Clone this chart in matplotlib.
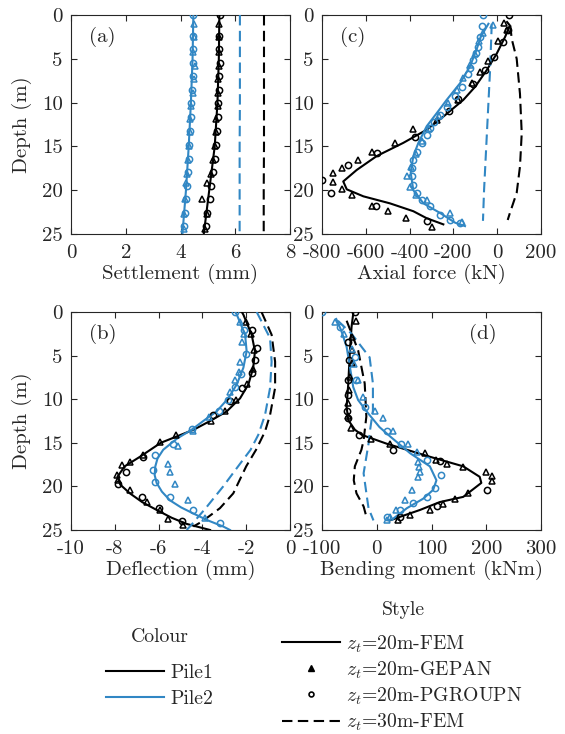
import matplotlib
matplotlib.use("Agg")
import matplotlib.pyplot as plt
from matplotlib.lines import Line2D

plt.rcParams['font.family'] = 'serif'
plt.rcParams['font.serif'] = ['cmr10', 'DejaVu Serif']
plt.rcParams['mathtext.fontset'] = 'cm'
plt.rcParams['axes.unicode_minus'] = False

BLACK = 'black'
BLUE = '#3187c4'

# ---------------- (a) Settlement ----------------
a_fem_d = [0, 5, 10, 15, 20, 25]
a_p1_fem = [5.42, 5.40, 5.35, 5.25, 5.05, 4.85]
a_p2_fem = [4.47, 4.44, 4.38, 4.30, 4.20, 4.07]
a_p1_30 = [7.05, 7.05, 7.05, 7.05, 7.04, 7.04]
a_p2_30 = [6.17, 6.17, 6.17, 6.16, 6.16, 6.16]
a_pg_d = [0, 2.4, 3.9, 5.5, 7.0, 8.6, 10.1, 11.7, 13.2, 14.8, 16.4, 17.9, 19.5, 21.0, 22.6, 24.1]
a_p1_pg = [5.45, 5.42, 5.42, 5.43, 5.41, 5.41, 5.38, 5.36, 5.33, 5.30, 5.27, 5.20, 5.12, 5.06, 4.98, 4.93]
a_p2_pg = [4.45, 4.47, 4.46, 4.45, 4.44, 4.42, 4.40, 4.38, 4.35, 4.32, 4.30, 4.27, 4.24, 4.21, 4.18, 4.14]
a_ge_d = [1.0, 2.5, 4.2, 5.8, 7.3, 8.9, 10.4, 11.9, 13.4, 15.0, 16.5, 18.1, 19.2, 21.0, 22.7, 24.4]
a_p1_ge = [5.40, 5.42, 5.39, 5.41, 5.38, 5.38, 5.36, 5.30, 5.30, 5.25, 5.18, 5.12, 4.98, 4.78, 4.95, 4.88]
a_p2_ge = [4.50, 4.50, 4.46, 4.52, 4.48, 4.45, 4.40, 4.36, 4.33, 4.30, 4.27, 4.24, 4.21, 4.18, 4.14, 4.12]

# ---------------- (c) Axial force ----------------
c_p1_fem_d = [0.8, 1.2, 2.5, 4.4, 6.3, 8.2, 9.7, 11.6, 13.1, 14.6, 16.1, 17.7, 19.0, 19.9, 20.7, 21.5, 22.4, 23.2, 23.9]
c_p1_fem = [45, 58, 36, -2, -48, -101, -155, -246, -322, -429, -550, -642, -703, -687, -611, -490, -383, -322, -246]
c_p2_fem_d = [1.0, 2.5, 4.0, 5.9, 7.8, 9.7, 11.2, 12.7, 14.6, 16.1, 18.0, 20.0, 21.5, 22.6, 23.7, 24.1]
c_p2_fem = [-40, -75, -95, -125, -170, -231, -276, -322, -360, -383, -395, -383, -337, -261, -193, -147]
c_p1_pg_d = [0, 1.7, 3.1, 4.75, 6.3, 7.9, 9.6, 11.0, 13.9, 15.7, 17.1, 18.8, 20.3, 21.8, 23.5]
c_p1_pg = [54, 50, 25, -13, -56, -110, -177, -222, -375, -547, -680, -800, -760, -553, -322]
c_p1_ge_d = [0.9, 1.7, 3.0, 5.3, 6.5, 7.8, 9.7, 12.0, 13.0, 14.6, 15.6, 16.5, 17.5, 18.0, 19.1, 19.9, 20.6, 21.8, 22.4, 23.2, 24.2]
c_p1_ge = [31, 46, 5, -40, -78, -115, -177, -276, -383, -467, -573, -634, -710, -748, -748, -710, -665, -573, -497, -416, -299]
c_p2_pg_d = [0, 1.3, 2.5, 3.6, 4.3, 5.1, 6.1, 6.7, 8.2, 9.3, 10.5, 11.4, 12.2, 12.9, 13.7, 14.6, 15.6, 16.5, 17.5, 18.4, 19.4, 20.3, 21.1, 21.8, 22.8, 23.4, 23.7]
c_p2_pg = [-63, -71, -79, -86, -97, -109, -124, -132, -162, -193, -231, -262, -287, -305, -322, -345, -368, -383, -391, -391, -383, -368, -345, -307, -261, -216, -170]
c_p2_ge_d = [1.1, 2.1, 3.0, 4.4, 5.7, 7.2, 8.6, 10.1, 11.5, 13.0, 14.4, 15.9, 17.3, 18.4, 19.6, 20.6, 21.1, 22.6, 23.6]
c_p2_ge = [-18, -63, -82, -101, -124, -155, -185, -225, -265, -310, -345, -372, -395, -413, -400, -372, -322, -216, -162]
c_p2_30_d = [1.0, 2.5, 6.5, 10.5, 15, 20, 23.5]
c_p2_30 = [-25, -27, -33, -41, -50, -60, -65]
c_p1_30_d = [1.2, 2.7, 5.0, 9.0, 13.5, 17.3, 20.3, 22.6, 23.4]
c_p1_30 = [60, 66, 89, 104, 112, 104, 89, 58, 48]

# ---------------- (b) Deflection ----------------
b_p1_fem_d = [0, 0.3, 2.6, 4.5, 6.4, 8.3, 9.9, 11.4, 12.5, 13.5, 14.1, 15.0, 16.6, 17.7, 18.9, 19.8, 20.8, 21.8, 22.7, 23.6, 24.3, 25.0]
b_p1_fem = [-2.2, -2.13, -1.75, -1.6, -1.68, -1.9, -2.28, -2.89, -3.65, -4.4, -5.0, -5.9, -6.85, -7.55, -7.88, -7.75, -7.31, -6.75, -6.09, -5.4, -4.72, -3.65]
b_p2_fem_d = [0, 0.3, 2.6, 4.5, 6.4, 8.3, 9.9, 11.4, 12.5, 13.5, 14.5, 15.8, 16.8, 17.7, 18.7, 19.6, 20.6, 21.6, 22.4, 23.1, 23.9, 24.6, 25.0]
b_p2_fem = [-2.5, -2.43, -2.05, -1.98, -2.13, -2.43, -2.82, -3.35, -3.96, -4.49, -5.15, -5.79, -6.05, -6.15, -6.18, -6.09, -5.85, -5.48, -4.98, -4.42, -3.75, -3.05, -2.74]
b_p2_pg_d = [0, 2.1, 4.8, 7.1, 8.6, 10.1, 11.3, 13.4, 15.1, 16.4, 18.1, 19.5, 21.2, 22.7, 24.2]
b_p2_pg = [-2.5, -2.1, -2.0, -2.25, -2.5, -2.85, -3.25, -4.49, -5.33, -6.16, -6.27, -6.16, -5.48, -4.42, -3.2]
b_p2_ge_d = [1.1, 2.5, 3.4, 5.7, 6.9, 7.8, 9.2, 12.0, 13.7, 15.4, 17.4, 18.3, 19.7, 21.6, 23.6]
b_p2_ge = [-2.28, -2.1, -2.2, -2.28, -2.35, -2.5, -2.75, -3.7, -4.41, -5.1, -5.56, -5.48, -5.25, -4.64, -3.88]
b_p1_ge_d = [1.2, 2.5, 4.4, 6.5, 8.2, 10.1, 11.3, 12.5, 14.1, 14.9, 16.4, 17.2, 17.5, 18.7, 19.3, 20.4, 21.8, 22.7, 23.7, 24.4]
b_p1_ge = [-2.0, -1.8, -1.65, -1.7, -1.95, -2.45, -2.95, -3.6, -5.2, -5.94, -6.7, -7.31, -7.69, -7.91, -7.84, -7.31, -6.55, -5.94, -5.56, -4.87]
b_p1_pg_d = [2.1, 4.1, 5.5, 7.0, 8.7, 10.2, 11.8, 16.6, 18.3, 19.7, 21.2, 22.5, 24.0]
b_p1_pg = [-1.75, -1.52, -1.6, -1.75, -2.2, -2.74, -3.5, -6.7, -7.5, -7.84, -6.77, -6.0, -4.95]
b_p2_30_d = [0, 3.0, 5.7, 8.7, 11.8, 14.1, 15.8, 17.4, 20.0, 22.5, 24.6, 25.0]
b_p2_30 = [-1.52, -0.91, -0.84, -0.91, -1.14, -1.45, -1.8, -2.28, -3.05, -3.85, -4.57, -4.72]
b_p1_30_d = [0, 2.6, 5.7, 8.7, 11.8, 13.7, 15.8, 17.7, 20.8, 22.5, 24.0, 24.6]
b_p1_30 = [-1.3, -0.84, -0.68, -0.68, -0.91, -1.14, -1.55, -2.0, -2.59, -3.2, -4.0, -4.41]

# ---------------- (d) Bending moment ----------------
d_p1_fem_d = [0.2, 1.7, 4.4, 8.2, 10.9, 12.4, 13.5, 14.1, 15.1, 16.6, 17.7, 18.9, 19.6, 21.2, 21.8, 22.7, 23.5, 23.9]
d_p1_fem = [-43, -46, -49, -52, -55, -52, -40, -27, 18, 97, 158, 188, 191, 158, 115, 79, 42, 24]
d_p1_ge_d = [1.0, 2.9, 4.4, 5.9, 7.4, 8.9, 10.4, 11.9, 13.3, 14.6, 15.1, 16.2, 17.0, 17.4, 17.8, 18.3, 18.8, 19.4, 20.8, 21.4, 22.0, 22.7, 23.3, 23.9]
d_p1_ge = [-38, -46, -45, -46, -48, -50, -52, -53, -47, -10, 24, 88, 109, 128, 158, 200, 210, 211, 167, 143, 121, 97, 61, 39]
d_p1_pg_d = [0, 3.4, 5.5, 7.8, 9.5, 11.3, 12.2, 14.1, 15.8, 17.1, 20.4, 22.2, 23.5]
d_p1_pg = [-40, -52, -50, -52, -53, -55, -52, -33, 30, 115, 201, 110, 42]
d_p2_fem_d = [0.8, 2.1, 4.0, 6.3, 8.6, 10.1, 11.6, 13.2, 14.3, 16.2, 17.7, 19.3, 20.4, 21.4, 22.5, 23.7]
d_p2_fem = [-74, -65, -55, -49, -43, -34, -16, 5, 25, 61, 97, 109, 103, 85, 55, 30]
d_p2_pg_d = [0, 1.7, 5.2, 7.8, 10.9, 13.7, 15.1, 17.0, 18.7, 20.2, 21.2, 21.9, 22.7, 23.5]
d_p2_pg = [-100, -68, -40, -37, -22, 18, 45, 91, 118, 106, 91, 67, 42, 18]
d_p2_ge_d = [1.1, 2.5, 4.2, 6.0, 7.8, 9.7, 11.3, 12.2, 13.7, 15.1, 16.0, 17.2, 17.8, 18.4, 18.9, 20.4, 21.6, 22.7, 23.5, 23.9]
d_p2_ge = [-77, -59, -46, -42, -35, -25, -4, 12, 30, 57, 73, 76, 78, 79, 76, 64, 52, 36, 24, 18]
d_p2_30_d = [1.0, 2.5, 5.2, 8.2, 11.3, 13.9, 15.1, 18.5, 21.2, 22.5, 23.9]
d_p2_30 = [-71, -46, -13, -7, -7, -13, -15, -24, -18, -15, -6]
d_p1_30_d = [1.0, 4.4, 8.2, 12.0, 14.7, 15.8, 17.7, 19.3, 20.8, 22.3, 23.7]
d_p1_30 = [-55, -34, -22, -19, -24, -28, -40, -42, -37, -24, -18]

depth_ticks = [0, 5, 10, 15, 20, 25]
a_xticks = [0, 2, 4, 6, 8]
c_xticks = [-800, -600, -400, -200, 0, 200]
b_xticks = [-10, -8, -6, -4, -2, 0]
d_xticks = [-100, 0, 100, 200, 300]

W, H = 565, 734
fig = plt.figure(figsize=(W / 100, H / 100), dpi=100)

def ax_at(l, t, w, h):
    return fig.add_axes([l / W, 1 - (t + h) / H, w / W, h / H])

ax_a = ax_at(71, 15, 219, 219)
ax_c = ax_at(322, 15, 219, 219)
ax_b = ax_at(71, 312, 219, 218)
ax_d = ax_at(322, 312, 219, 218)

LW = 1.5
MS = 5
MEW = 1.1
DASH = (5, 2.6)

def draw(ax, fem, ge, pg, d30, color):
    ax.plot(fem[0], fem[1], color=color, lw=LW, zorder=3)
    ax.plot(ge[0], ge[1], ls='none', marker='^', ms=MS, mew=MEW, mfc='none', mec=color, zorder=4)
    ax.plot(pg[0], pg[1], ls='none', marker='o', ms=MS - 0.5, mew=MEW, mfc='none', mec=color, zorder=4)
    ax.plot(d30[0], d30[1], color=color, lw=LW, ls=(0, DASH), zorder=3)

draw(ax_a, (a_p1_fem, a_fem_d), (a_p1_ge, a_ge_d), (a_p1_pg, a_pg_d), (a_p1_30, a_fem_d), BLACK)
draw(ax_a, (a_p2_fem, a_fem_d), (a_p2_ge, a_ge_d), (a_p2_pg, a_pg_d), (a_p2_30, a_fem_d), BLUE)
draw(ax_c, (c_p1_fem, c_p1_fem_d), (c_p1_ge, c_p1_ge_d), (c_p1_pg, c_p1_pg_d), (c_p1_30, c_p1_30_d), BLACK)
draw(ax_c, (c_p2_fem, c_p2_fem_d), (c_p2_ge, c_p2_ge_d), (c_p2_pg, c_p2_pg_d), (c_p2_30, c_p2_30_d), BLUE)
draw(ax_b, (b_p1_fem, b_p1_fem_d), (b_p1_ge, b_p1_ge_d), (b_p1_pg, b_p1_pg_d), (b_p1_30, b_p1_30_d), BLACK)
draw(ax_b, (b_p2_fem, b_p2_fem_d), (b_p2_ge, b_p2_ge_d), (b_p2_pg, b_p2_pg_d), (b_p2_30, b_p2_30_d), BLUE)
draw(ax_d, (d_p1_fem, d_p1_fem_d), (d_p1_ge, d_p1_ge_d), (d_p1_pg, d_p1_pg_d), (d_p1_30, d_p1_30_d), BLACK)
draw(ax_d, (d_p2_fem, d_p2_fem_d), (d_p2_ge, d_p2_ge_d), (d_p2_pg, d_p2_pg_d), (d_p2_30, d_p2_30_d), BLUE)

FS = 15
TC = '#262626'
specs = [
    (ax_a, a_xticks, 'Settlement (mm)', '(a)', (0.08, 0.90), True),
    (ax_c, c_xticks, 'Axial force (kN)', '(c)', (0.08, 0.90), False),
    (ax_b, b_xticks, 'Deflection (mm)', '(b)', (0.08, 0.90), True),
    (ax_d, d_xticks, 'Bending moment (kNm)', '(d)', (0.67, 0.90), False),
]
for ax, xt, xl, lab, pos, left in specs:
    ax.set_xlim(xt[0], xt[-1])
    ax.set_ylim(25, 0)
    ax.set_xticks(xt)
    ax.set_xticklabels([str(v) for v in xt])
    ax.set_yticks(depth_ticks)
    ax.set_yticklabels([str(v) for v in depth_ticks])
    ax.tick_params(direction='in', top=True, right=True, length=4, width=0.8,
                   labelsize=FS, colors=TC, labelcolor=TC, pad=6)
    ax.tick_params(axis='x', pad=7.5)
    for s in ax.spines.values():
        s.set_color(TC)
        s.set_linewidth(0.8)
    ax.set_xlabel(xl, fontsize=FS, color=TC, labelpad=1)
    if left:
        ax.set_ylabel('Depth (m)', fontsize=FS, color=TC, labelpad=7)
    ax.text(pos[0], pos[1], lab, transform=ax.transAxes, fontsize=FS,
            ha='left', va='center', color=TC)

LFS = 14.2
fig.text(160 / W, 1 - 637 / H, 'Colour', ha='center', va='center', fontsize=LFS, color=TC)
fig.text(403 / W, 1 - 610 / H, 'Style', ha='center', va='center', fontsize=LFS, color=TC)

col_handles = [Line2D([], [], color=BLACK, lw=LW), Line2D([], [], color=BLUE, lw=LW)]
leg1 = fig.legend(col_handles, ['Pile1', 'Pile2'], loc='center',
                  bbox_to_anchor=(159.5 / W, 1 - 686 / H), frameon=False, fontsize=LFS,
                  handlelength=2.95, handletextpad=0.3, labelspacing=0.42, borderpad=0)
for t in leg1.get_texts():
    t.set_color(TC)
sty_handles = [Line2D([], [], color=BLACK, lw=LW),
               Line2D([], [], color=BLACK, ls='none', marker='^', ms=4),
               Line2D([], [], color=BLACK, ls='none', marker='o', ms=3.5, mfc='none', mew=1.2),
               Line2D([], [], color=BLACK, lw=LW, ls=(0, DASH))]
sty_labels = [r'$z_t$=20m-FEM', r'$z_t$=20m-GEPAN', r'$z_t$=20m-PGROUPN', r'$z_t$=30m-FEM']
leg2 = fig.legend(sty_handles, sty_labels, loc='center',
                  bbox_to_anchor=(402 / W, 1 - 683 / H), frameon=False, fontsize=LFS,
                  handlelength=2.95, handletextpad=0.3, labelspacing=0.24, borderpad=0)
for t in leg2.get_texts():
    t.set_color(TC)

fig.savefig('out.png', dpi=100)
